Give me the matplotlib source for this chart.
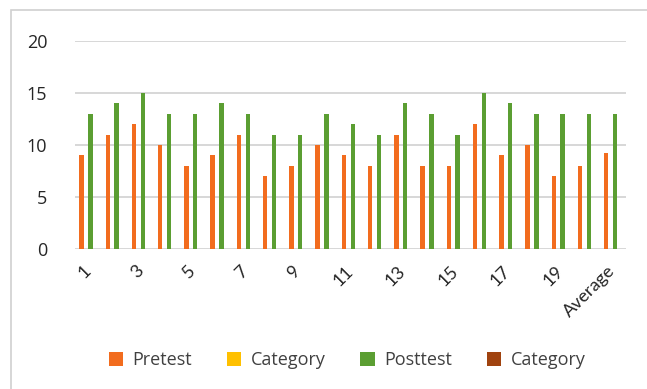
import numpy as np
import matplotlib.pyplot as plt
from matplotlib.patches import Rectangle

categories = [str(i) for i in range(1, 21)] + ["Average"]
pretest = [9, 11, 12, 10, 8, 9, 11, 7, 8, 10, 9, 8, 11, 8, 8, 12, 9, 10, 7, 8, 9.2]
category_a = [0] * 21
posttest = [13, 14, 15, 13, 13, 14, 13, 11, 11, 13, 12, 11, 14, 13, 11, 15, 14, 13, 13, 13, 13]
category_b = [0] * 21

series = [
    ("Pretest", pretest, "#F26C1E"),
    ("Category", category_a, "#FFC000"),
    ("Posttest", posttest, "#5B9E32"),
    ("Category", category_b, "#A0430F"),
]

fig = plt.figure(figsize=(6.47, 3.89), dpi=100)
# frame around the chart area (runs off the right and bottom edges)
fig.patches.append(Rectangle((11 / 647, -0.1), 2, 1 - 10.5 / 389 + 0.1,
                             transform=fig.transFigure, fill=False,
                             edgecolor="#D0D0D0", linewidth=1.2))
ax = fig.add_axes([75 / 647, 1 - 249 / 389, 551 / 647, 208 / 389])

x = np.arange(len(categories))
w = 0.168
for i, (name, vals, col) in enumerate(series):
    ax.bar(x + (i - 1.5) * w, vals, width=w, color=col, label=name, zorder=3)

ax.set_ylim(0, 20)
ax.set_xlim(-0.5, len(categories) - 0.5)
ax.set_yticks([0, 5, 10, 15, 20])
ax.yaxis.grid(True, color="#D4D4D4", linewidth=1.3, zorder=0)
for s in ax.spines.values():
    s.set_visible(False)
ax.tick_params(axis="both", length=0)
ax.tick_params(axis="y", pad=20, labelsize=13, labelcolor="#262626")
for t in ax.get_yticklabels():
    t.set_fontfamily("Open Sans")

ticks = x[::2]
ax.set_xticks(ticks)
ax.set_xticklabels([categories[i] for i in ticks], rotation=45, ha="right",
                   va="center", rotation_mode="anchor", fontsize=13,
                   color="#262626", family="Lato")
ax.tick_params(axis="x", pad=14)

leg = ax.legend(loc="center", bbox_to_anchor=(347 / 647, 1 - 360 / 389),
                bbox_transform=fig.transFigure, ncol=4, frameon=False,
                prop={"family": "Open Sans", "size": 13},
                handlelength=0.8, handleheight=0.8, handletextpad=0.5,
                columnspacing=1.95)
for t in leg.get_texts():
    t.set_color("#404040")

fig.savefig("out.png", dpi=100)
